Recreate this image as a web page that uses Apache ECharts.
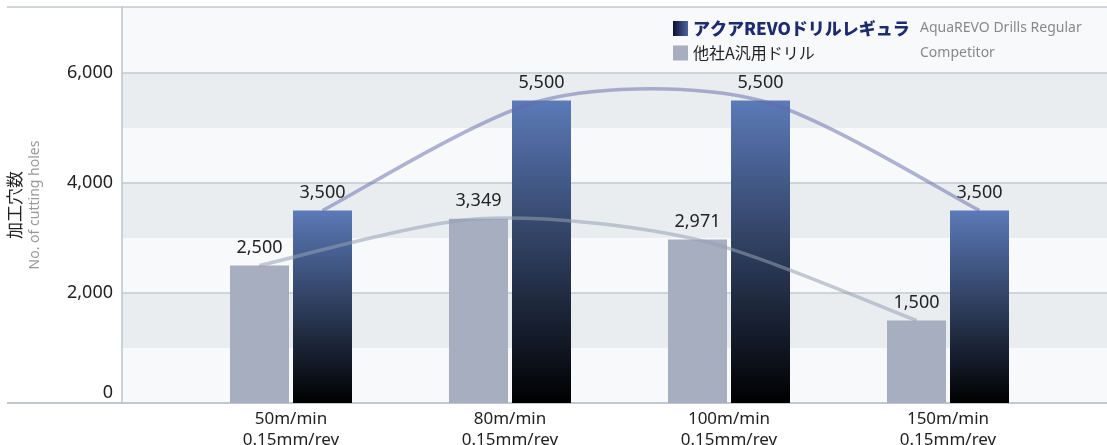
<!DOCTYPE html>
<html>
<head>
<meta charset="utf-8">
<script src="https://cdn.jsdelivr.net/npm/echarts@6/dist/echarts.min.js"></script>
<style>
html, body { margin: 0; padding: 0; background: #fff; }
#main { width: 1107px; height: 445px; }
</style>
</head>
<body>
<div id="main"></div>
<script>
// data
var speeds = ['50m/min', '80m/min', '100m/min', '150m/min']
var feeds = ['0.15mm/rev', '0.15mm/rev', '0.15mm/rev', '0.15mm/rev']
var seriesNames = ['アクアREVOドリルレギュラ', '他社A汎用ドリル']
var seriesNamesEn = ['AquaREVO Drills Regular', 'Competitor']
var revoHoles = [3500, 5500, 5500, 3500]
var competitorHoles = [2500, 3349, 2971, 1500]
var yMax = 7200
var yStep = 2000
var bandStep = 1000

var categories = speeds.map(function (s, i) { return s + '\n' + feeds[i] })
var LATIN = '"Noto Sans", "Noto Sans CJK JP", sans-serif'
var CJK = '"Noto Sans CJK JP", "Noto Sans", sans-serif'

function fmt(v) {
	return String(v).replace(/\B(?=(\d{3})+(?!\d))/g, ',')
}

var myChart = echarts.init(document.getElementById('main'))

var revoGrad = new echarts.graphic.LinearGradient(0, 0, 0, 1, [
	{ offset: 0, color: '#5b7ab8' },
	{ offset: 1, color: '#000000' },
])
var revoLegendGrad = new echarts.graphic.LinearGradient(0, 0, 1, 0, [
	{ offset: 0, color: '#0b1230' },
	{ offset: 1, color: '#4d63a0' },
])

var L = '#f7f9fa'
var D = '#e9edf0'
var TOP = 7
var BOTTOM = 42

var barLabel = {
	show: true,
	position: 'top',
	distance: 9,
	fontSize: 18,
	color: '#222',
	fontFamily: LATIN,
	formatter: function (p) { return fmt(p.value) },
}

// smooth trend line through the bar tops (catmull-rom style)
function trendRenderer(values, stroke) {
	return function (params, api) {
		if (params.dataIndex !== 0) return null
		var pts = values.map(function (v, i) { return api.coord([i, v]) })
		var k = 0.85 / 6
		var d = 'M' + pts[0][0] + ' ' + pts[0][1]
		for (var i = 0; i < pts.length - 1; i++) {
			var p0 = pts[Math.max(i - 1, 0)]
			var p1 = pts[i]
			var p2 = pts[i + 1]
			var p3 = pts[Math.min(i + 2, pts.length - 1)]
			var c1x = p1[0] + (p2[0] - p0[0]) * k
			var c1y = p1[1] + (p2[1] - p0[1]) * k
			var c2x = p2[0] - (p3[0] - p1[0]) * k
			var c2y = p2[1] - (p3[1] - p1[1]) * k
			d += ' C' + c1x + ' ' + c1y + ' ' + c2x + ' ' + c2y + ' ' + p2[0] + ' ' + p2[1]
		}
		return {
			type: 'path',
			shape: { pathData: d },
			style: { fill: null, stroke: stroke, lineWidth: 3.5 },
		}
	}
}

var gridBase = { top: TOP, bottom: BOTTOM, containLabel: false, outerBoundsMode: 'none' }

var option = {
	animation: false,
	textStyle: { fontFamily: LATIN },
	grid: [
		Object.assign({ left: 122, right: 0 }, gridBase),
		Object.assign({ left: 181.5, right: 49.5 }, gridBase),
		Object.assign({ left: 150, right: 81 }, gridBase),
		Object.assign({ left: 213, right: 18 }, gridBase),
	],
	xAxis: [
		{
			gridIndex: 0, type: 'category', data: categories,
			axisLine: { lineStyle: { color: '#a9b6be', width: 1.5 } },
			axisTick: { show: false }, axisLabel: { show: false },
		},
		{
			gridIndex: 1, type: 'category', data: categories,
			axisLine: { show: false }, axisTick: { show: false },
			axisLabel: { fontSize: 17, lineHeight: 21, color: '#222', margin: 6, fontFamily: LATIN },
		},
		{ gridIndex: 2, type: 'category', data: categories, show: false },
		{ gridIndex: 3, type: 'category', data: categories, show: false },
	],
	yAxis: [
		{
			gridIndex: 0, type: 'value', position: 'left', min: 0, max: yMax, interval: bandStep, z: 0,
			axisLine: { show: false }, axisTick: { show: false }, axisLabel: { show: false },
			splitLine: { show: false },
			splitArea: { show: true, areaStyle: { color: [L, D, L, D, L, D, L, L] } },
		},
		{
			gridIndex: 0, type: 'value', position: 'left', offset: 0, min: 0, max: yMax, interval: yStep, z: 1,
			axisLine: { show: true, lineStyle: { color: '#b8c4cc', width: 1.5 } },
			axisTick: { show: false },
			splitLine: { show: true, lineStyle: { color: '#c0cad1', width: 1.5 } },
			axisLabel: {
				margin: 9, fontSize: 18, color: '#222', fontFamily: LATIN,
				formatter: function (v) {
					if (v % yStep !== 0) return ''
					if (v === 0) return '{z|0}'
					return fmt(v)
				},
				rich: { z: { fontSize: 18, color: '#222', fontFamily: LATIN, padding: [0, 0, 20, 0] } },
			},
			name: '{a|加工穴数}\n{b|No. of cutting holes}',
			nameLocation: 'middle',
			nameRotate: 90,
			nameGap: 77,
			nameTextStyle: {
				rich: {
					a: { fontSize: 17, color: '#222', fontFamily: CJK, lineHeight: 20 },
					b: { fontSize: 14, color: '#999', fontFamily: LATIN, lineHeight: 20 },
				},
			},
		},
		{ gridIndex: 1, type: 'value', min: 0, max: yMax, show: false, splitLine: { show: false } },
		{ gridIndex: 2, type: 'value', min: 0, max: yMax, show: false, splitLine: { show: false } },
		{ gridIndex: 3, type: 'value', min: 0, max: yMax, show: false, splitLine: { show: false } },
	],
	legend: {
		orient: 'vertical',
		left: 668,
		top: 15,
		itemWidth: 15,
		itemHeight: 15,
		itemGap: 8,
		icon: 'rect',
		data: [
			{ name: seriesNames[0], itemStyle: { color: revoLegendGrad } },
			{ name: seriesNames[1] },
		],
		formatter: function (name) {
			var i = seriesNames.indexOf(name)
			return '{jp' + i + '|' + name + '}{en|' + seriesNamesEn[i] + '}'
		},
		textStyle: {
			rich: {
				jp0: { fontSize: 17, fontWeight: 900, color: '#1d2c6f', fontFamily: CJK, width: 227, lineHeight: 17 },
				jp1: { fontSize: 16, color: '#222', fontFamily: CJK, width: 227, lineHeight: 17 },
				en: { fontSize: 14, color: '#888', fontFamily: LATIN, lineHeight: 17 },
			},
		},
	},
	graphic: [
		{ type: 'line', shape: { x1: 7, y1: 7, x2: 122, y2: 7 }, style: { stroke: '#c0cad1', lineWidth: 1.5 } },
		{ type: 'line', shape: { x1: 7, y1: 403, x2: 122, y2: 403 }, style: { stroke: '#a9b6be', lineWidth: 1.5 } },
	],
	series: [
		{
			name: seriesNames[1], type: 'bar', xAxisIndex: 1, yAxisIndex: 2,
			data: competitorHoles, barWidth: 59, barGap: '6.8%',
			itemStyle: { color: '#a6aebf' }, label: barLabel, z: 2,
		},
		{
			name: seriesNames[0], type: 'bar', xAxisIndex: 1, yAxisIndex: 2,
			data: revoHoles, barWidth: 59,
			itemStyle: { color: revoGrad }, label: barLabel, z: 2,
		},
		{
			name: 'competitorTrend', type: 'custom', coordinateSystem: 'cartesian2d',
			xAxisIndex: 2, yAxisIndex: 3, z: 3, silent: true,
			data: competitorHoles.map(function (v, i) { return [i, v] }),
			renderItem: trendRenderer(competitorHoles, 'rgba(150,160,178,0.55)'),
		},
		{
			name: 'revoTrend', type: 'custom', coordinateSystem: 'cartesian2d',
			xAxisIndex: 3, yAxisIndex: 4, z: 3, silent: true,
			data: revoHoles.map(function (v, i) { return [i, v] }),
			renderItem: trendRenderer(revoHoles, 'rgba(100,105,170,0.5)'),
		},
	],
}
myChart.setOption(option)
</script>
</body>
</html>
